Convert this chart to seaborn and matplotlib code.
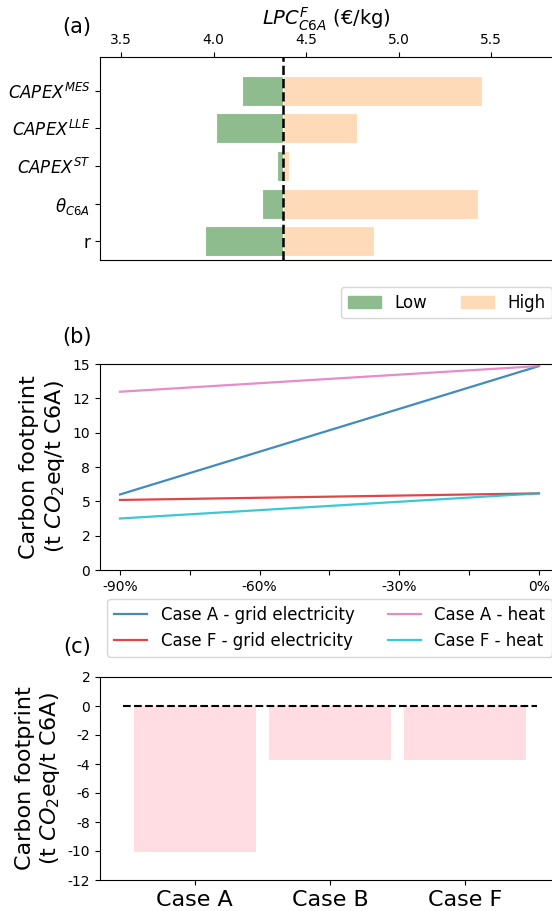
import numpy as np
import pandas as pd
import matplotlib
matplotlib.use("Agg")
import matplotlib.pyplot as plt
import seaborn as sns
from matplotlib.patches import Patch
from matplotlib.lines import Line2D

plt.rcParams['font.family'] = ['DejaVu Sans']
plt.rcParams['axes.unicode_minus'] = False

# ---------------- data ----------------
# (a) tornado chart
params = [r"$CAPEX^{MES}$", r"$CAPEX^{LLE}$", r"$CAPEX^{ST}$", r"$\theta_{C6A}$", "r"]
base_lpc = 4.375
low_vals = [4.155, 4.015, 4.345, 4.26, 3.955]
high_vals = [5.45, 4.775, 4.405, 5.43, 4.865]
a_ticks = [3.5, 4.0, 4.5, 5.0, 5.5]

# (b) carbon footprint vs reduction
reduction = [-90, 0]
series_names = ["Case A - grid electricity", "Case F - grid electricity",
                "Case A - heat", "Case F - heat"]
cf_A_grid = [5.5, 14.85]
cf_F_grid = [5.1, 5.58]
cf_A_heat = [12.98, 14.85]
cf_F_heat = [3.75, 5.58]
b_tick_pos = [-90, -75, -60, -45, -30, -15, 0]
b_tick_labels = ["-90%", "", "-60%", "", "-30%", "", "0%"]
b_ytick_pos = [0, 2.5, 5, 7.5, 10, 12.5, 15]
b_ytick_labels = ["0", "2", "5", "8", "10", "12", "15"]

# (c) carbon footprint per case
cases = ["Case A", "Case B", "Case F"]
cf_cases = [-10.1, -3.75, -3.75]

# ---------------- figure ----------------
W, H = 552, 911
fig = plt.figure(figsize=(W / 100, H / 100), dpi=100)

def ax_at(left_px, top_px, right_px, bottom_px):
    return fig.add_axes([left_px / W, 1 - bottom_px / H,
                         (right_px - left_px) / W, (bottom_px - top_px) / H])

green = "#8fbc8f"
peach = "#ffdab9"
pink = "#ffdde2"

# ---- (a) ----
ax1 = ax_at(100, 57, 552, 260)
ypos = np.arange(len(params))
ax1.barh(ypos, np.array(low_vals) - base_lpc, left=base_lpc, height=0.8,
         color=green, edgecolor="white", linewidth=0.8)
ax1.barh(ypos, np.array(high_vals) - base_lpc, left=base_lpc, height=0.8,
         color=peach, edgecolor="white", linewidth=0.8)
ax1.axvline(base_lpc, color="black", ls="--", lw=1.8)
ax1.set_yticks(ypos)
ax1.set_yticklabels(params, fontsize=12)
ax1.set_ylim(4.5, -0.9)
ax1.set_xlim(3.385, 5.83)
ax1.xaxis.tick_top()
ax1.xaxis.set_label_position("top")
ax1.set_xticks(a_ticks)
ax1.set_xticklabels([f"{t:.1f}" for t in a_ticks], fontsize=10)
ax1.set_xlabel(r"$LPC^{F}_{C6A}$ (€/kg)", fontsize=14, labelpad=6)
ax1.spines["right"].set_visible(False)
fig.text(77 / W, 1 - 27 / H, "(a)", fontsize=15, ha="center", va="center")
fig.legend(handles=[Patch(color=green, label="Low"), Patch(color=peach, label="High")],
           ncol=2, fontsize=12, loc="upper right",
           bbox_to_anchor=(1.0, 1 - 287 / H), borderaxespad=0)

# ---- (b) ----
ax2 = ax_at(100, 364, 552, 570)
df = pd.DataFrame({
    "reduction": reduction * 4,
    "cf": cf_A_grid + cf_F_grid + cf_A_heat + cf_F_heat,
    "series": sum([[s] * len(reduction) for s in series_names], []),
})
pal = {"Case A - grid electricity": "#1f77b4", "Case F - grid electricity": "#d62728",
       "Case A - heat": "#e377c2", "Case F - heat": "#17becf"}
sns.lineplot(data=df, x="reduction", y="cf", hue="series", palette=pal, ax=ax2,
             legend=False, lw=1.6, alpha=0.85)
ax2.set_xlim(-94.3, 2.8)
ax2.set_ylim(0, 15)
ax2.set_xticks(b_tick_pos)
ax2.set_xticklabels(b_tick_labels, fontsize=10)
ax2.set_yticks(b_ytick_pos)
ax2.set_yticklabels(b_ytick_labels, fontsize=10)
ax2.set_xlabel("")
ax2.set_ylabel("Carbon footprint\n(t $CO_2$eq/t C6A)", fontsize=16)
ax2.spines["right"].set_visible(False)
fig.text(77 / W, 1 - 337 / H, "(b)", fontsize=15, ha="center", va="center")
order = ["Case A - grid electricity", "Case F - grid electricity",
         "Case A - heat", "Case F - heat"]
fig.legend(handles=[Line2D([], [], color=pal[s], lw=1.6, alpha=0.85, label=s) for s in order],
           ncol=2, fontsize=12, loc="upper right",
           bbox_to_anchor=(1.0, 1 - 599 / H), borderaxespad=0)

# ---- (c) ----
ax3 = ax_at(100, 677, 552, 880)
sns.barplot(x=cases, y=cf_cases, color=pink, saturation=1, width=0.9, ax=ax3)
ax3.hlines(0, -0.53, 2.53, colors="black", linestyles="--", lw=1.5)
ax3.set_xlim(-0.7, 2.64)
ax3.set_ylim(-12, 2)
ax3.set_yticks(np.arange(-12, 3, 2))
ax3.tick_params(axis="y", labelsize=10)
ax3.tick_params(axis="x", labelsize=16)
ax3.set_ylabel("Carbon footprint\n(t $CO_2$eq/t C6A)", fontsize=16)
ax3.spines["right"].set_visible(False)
fig.text(77 / W, 1 - 647 / H, "(c)", fontsize=15, ha="center", va="center")

fig.savefig("out.png", dpi=100)
